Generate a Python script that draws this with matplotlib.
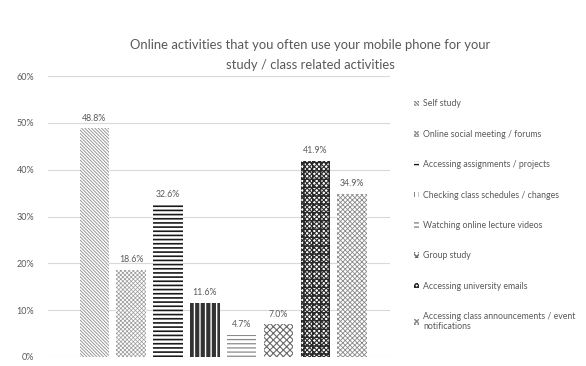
import matplotlib
matplotlib.use("Agg")
import matplotlib.pyplot as plt
from matplotlib.patches import Patch

plt.rcParams['font.family'] = ['Lato', 'DejaVu Sans']

title = "Online activities that you often use your mobile phone for your\nstudy / class related activities"
categories = ["Self study", "Online social meeting / forums", "Accessing assignments / projects",
              "Checking class schedules / changes", "Watching online lecture videos", "Group study",
              "Accessing university emails", "Accessing class announcements / event\nnotifications"]
values = [48.8, 18.6, 32.6, 11.6, 4.7, 7.0, 41.9, 34.9]
yticks = [0, 10, 20, 30, 40, 50, 60]

hatches = ['\\\\\\\\\\\\\\\\\\\\', 'xxxxxxxx', '----', '|||', '----', 'xxxxx', 'xxxxxxx++', 'xxxxxxx']
hcolors = ['#8a8a8a', '#9a9a9a', '#1a1a1a', '#333333', '#8a8a8a', '#6a6a6a', '#2a2a2a', '#8a8a8a']
hlw = [0.6, 0.5, 1.2, 3.0, 0.9, 0.8, 0.8, 0.6]

fig = plt.figure(figsize=(5.86, 3.66), dpi=100)
ax = fig.add_axes([48/586, 1-357/366, (390-48)/586, (357-76)/366])

gray = '#595959'
handles = []
for i, v in enumerate(values):
    with plt.rc_context({'hatch.linewidth': hlw[i]}):
        ax.bar(i, v, width=0.8, color='white', edgecolor=hcolors[i], linewidth=0,
               hatch=hatches[i], zorder=3)
        h = Patch(facecolor='white', edgecolor=hcolors[i], linewidth=0, hatch=hatches[i])
    handles.append(h)
    ax.text(i, v + 1.2, f"{v:.1f}%", ha='center', va='bottom', fontsize=6.3, color=gray)

ax.set_xlim(-1.26, 8.03)
ax.set_ylim(0, 60)
ax.set_yticks(yticks)
ax.set_yticklabels([f"{t}%" for t in yticks], fontsize=6.5, color=gray)
ax.set_xticks([])
ax.tick_params(axis='y', length=0, pad=10)
ax.yaxis.grid(True, color='#d9d9d9', linewidth=0.8, zorder=0)
for s in ax.spines.values():
    s.set_visible(False)

fig.text(310/586, 1-55/366, title, ha='center', va='center', fontsize=9.4, color=gray, linespacing=1.75)

leg = fig.legend(handles, categories, loc='upper left', bbox_to_anchor=(410/586, 1-96/366),
                 frameon=False, fontsize=6.3, labelcolor=gray, handlelength=0.6, handleheight=0.6,
                 handletextpad=0.5, labelspacing=2.44, borderaxespad=0)

fig.savefig("out.png", dpi=100)
